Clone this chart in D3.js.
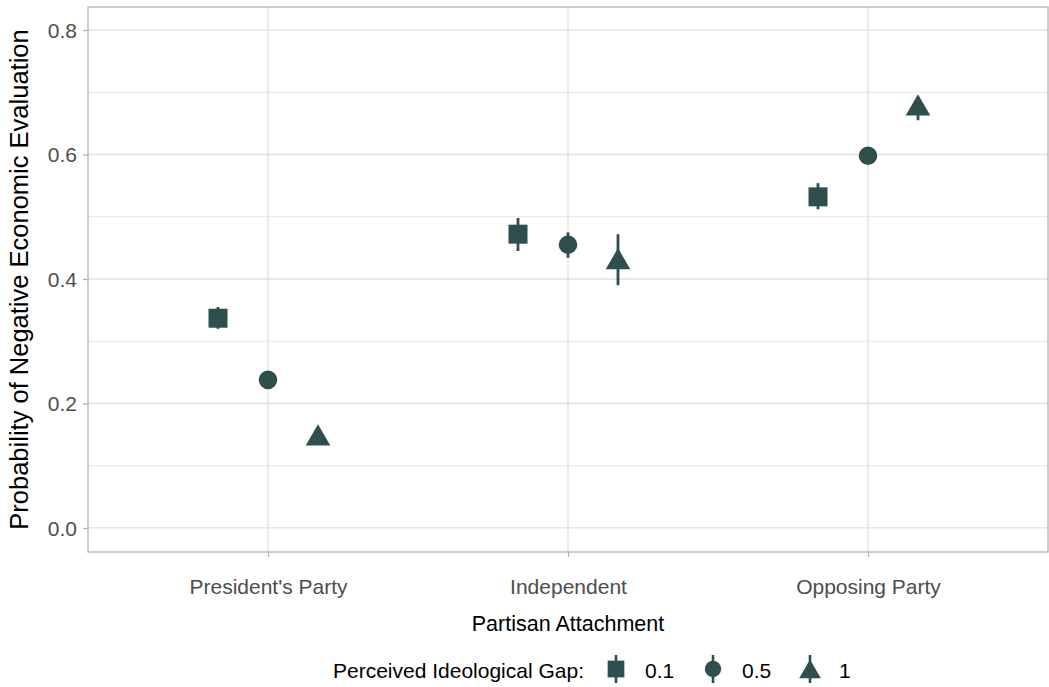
<!DOCTYPE html>
<html>
<head>
<meta charset="utf-8">
<script src="https://cdn.jsdelivr.net/npm/d3@7"></script>
<style>
  html, body { margin: 0; padding: 0; background: #ffffff; }
  svg { display: block; font-family: "Liberation Sans", Arial, Helvetica, sans-serif; }
</style>
</head>
<body>
<svg id="chart" width="1049" height="687"></svg>
<script>
// Partisan groups on the x axis
const categories = ["President's Party", "Independent", "Opposing Party"];
// Perceived ideological gap levels (dodged within each group)
const gapLevels = ["0.1", "0.5", "1"];
const gapShapes = ["square", "circle", "triangle"];
// Predicted probabilities, one array per gap level, in category order
const est01 = [0.337, 0.472, 0.532];
const est05 = [0.238, 0.455, 0.598];
const est1  = [0.144, 0.427, 0.674];
// Lower / upper interval bounds
const lo01 = [0.320, 0.445, 0.512];
const hi01 = [0.355, 0.498, 0.554];
const lo05 = [0.228, 0.434, 0.588];
const hi05 = [0.248, 0.475, 0.608];
const lo1  = [0.135, 0.390, 0.655];
const hi1  = [0.154, 0.472, 0.690];
// Y axis ticks
const yTicks = [0.0, 0.2, 0.4, 0.6, 0.8];
const yMinor = [0.1, 0.3, 0.5, 0.7];

const ests = [est01, est05, est1];
const los = [lo01, lo05, lo1];
const his = [hi01, hi05, hi1];

const rows = [];
gapLevels.forEach((g, gi) => {
  categories.forEach((c, ci) => {
    rows.push({ cat: c, gap: g, shape: gapShapes[gi], gi,
                est: ests[gi][ci], lo: los[gi][ci], hi: his[gi][ci] });
  });
});

const svg = d3.select("#chart");
const panel = { left: 88, right: 1048, top: 7, bottom: 552 };
const ink = "#2f4f4f";
const gridCol = "#e0e0e0";
const frameCol = "#b3b3b3";
const fontFam = "'Liberation Sans', Arial, sans-serif";

// Discrete axis with 0.6-unit expansion on both sides
const xPos = d3.scaleLinear().domain([0.4, 3.6]).range([panel.left, panel.right]);
const xCat = c => xPos(categories.indexOf(c) + 1);
const dodge = d3.scaleBand().domain(gapLevels).range([-0.25, 0.25]).paddingInner(0);
const xOf = d => xPos(categories.indexOf(d.cat) + 1 + dodge(d.gap) + dodge.bandwidth() / 2);

const y = d3.scaleLinear().domain([-0.0386, 0.837]).range([panel.bottom, panel.top]);

const g = svg.append("g");

// minor grid
g.selectAll("line.minor").data(yMinor).join("line")
  .attr("x1", panel.left).attr("x2", panel.right)
  .attr("y1", d => y(d)).attr("y2", d => y(d))
  .attr("stroke", gridCol).attr("stroke-width", 0.8);

// major grid
g.selectAll("line.majorY").data(yTicks).join("line")
  .attr("x1", panel.left).attr("x2", panel.right)
  .attr("y1", d => y(d)).attr("y2", d => y(d))
  .attr("stroke", gridCol).attr("stroke-width", 1.3);
g.selectAll("line.majorX").data(categories).join("line")
  .attr("x1", d => xCat(d)).attr("x2", d => xCat(d))
  .attr("y1", panel.top).attr("y2", panel.bottom)
  .attr("stroke", gridCol).attr("stroke-width", 1.3);

// axes
const yAxis = d3.axisLeft(y).tickValues(yTicks).tickFormat(d3.format(".1f")).tickSize(5).tickPadding(6);
const yG = svg.append("g").attr("transform", `translate(${panel.left},0)`).call(yAxis);
const xAxis = d3.axisBottom(d3.scalePoint().domain(categories).range([xCat(categories[0]), xCat(categories[2])]))
  .tickSize(5).tickPadding(6);
const xG = svg.append("g").attr("transform", `translate(0,${panel.bottom})`).call(xAxis);
[yG, xG].forEach(a => {
  a.select(".domain").remove();
  a.selectAll(".tick line").attr("stroke", frameCol).attr("stroke-width", 1.3);
  a.selectAll(".tick text").attr("fill", "#4d4d4d").style("font-size", "21px")
    .style("font-family", fontFam);
});
yG.selectAll(".tick text").attr("dy", "0.35em");
xG.selectAll(".tick text").attr("y", 42).attr("dy", null);

// panel frame
svg.append("rect")
  .attr("x", panel.left).attr("y", panel.top)
  .attr("width", panel.right - panel.left).attr("height", panel.bottom - panel.top)
  .attr("fill", "none").attr("stroke", frameCol).attr("stroke-width", 1.3);

// shape generator (k scales the symbol)
function shapePath(shape, k = 1) {
  if (shape === "square") {
    const h = 9.5 * k;
    return `M${-h},${-h}H${h}V${h}H${-h}Z`;
  }
  if (shape === "circle") {
    const r = 9.3 * k;
    return `M${r},0A${r},${r} 0 1,1 ${-r},0A${r},${r} 0 1,1 ${r},0Z`;
  }
  const r = 14.2 * k;
  const w = r * Math.cos(Math.PI / 6);
  return `M0,${-r}L${w},${r / 2}L${-w},${r / 2}Z`;
}

// error bars
svg.append("g").selectAll("line").data(rows).join("line")
  .attr("x1", xOf).attr("x2", xOf)
  .attr("y1", d => y(d.lo)).attr("y2", d => y(d.hi))
  .attr("stroke", ink).attr("stroke-width", 2.8);

// points
svg.append("g").selectAll("path").data(rows).join("path")
  .attr("transform", d => `translate(${xOf(d)},${y(d.est)})`)
  .attr("d", d => shapePath(d.shape))
  .attr("fill", ink);

// axis titles
svg.append("text")
  .attr("x", (panel.left + panel.right) / 2).attr("y", 631)
  .attr("text-anchor", "middle").attr("fill", "#000")
  .style("font-size", "21.5px").text("Partisan Attachment");
svg.append("text")
  .attr("transform", `translate(27.5,${(panel.top + panel.bottom) / 2}) rotate(-90)`)
  .attr("text-anchor", "middle").attr("fill", "#000")
  .style("font-size", "25.5px").text("Probability of Negative Economic Evaluation");

// legend
const leg = svg.append("g").attr("transform", "translate(0,669)");
leg.append("text").attr("x", 333).attr("y", 2).attr("dy", "0.35em")
  .attr("fill", "#000").style("font-size", "21px").text("Perceived Ideological Gap:");
const keyX = [616, 713, 810];
gapLevels.forEach((lv, i) => {
  const k = leg.append("g").attr("transform", `translate(${keyX[i]},0)`);
  k.append("line").attr("x1", 0).attr("x2", 0).attr("y1", -14).attr("y2", 14)
    .attr("stroke", ink).attr("stroke-width", 2.6);
  k.append("path").attr("d", shapePath(gapShapes[i], 0.88)).attr("fill", ink)
    .attr("transform", gapShapes[i] === "triangle" ? "translate(0,3)" : null);
  leg.append("text").attr("x", keyX[i] + 29).attr("y", 2).attr("dy", "0.35em")
    .attr("fill", "#000").style("font-size", "21px").text(lv);
});
</script>
</body>
</html>
